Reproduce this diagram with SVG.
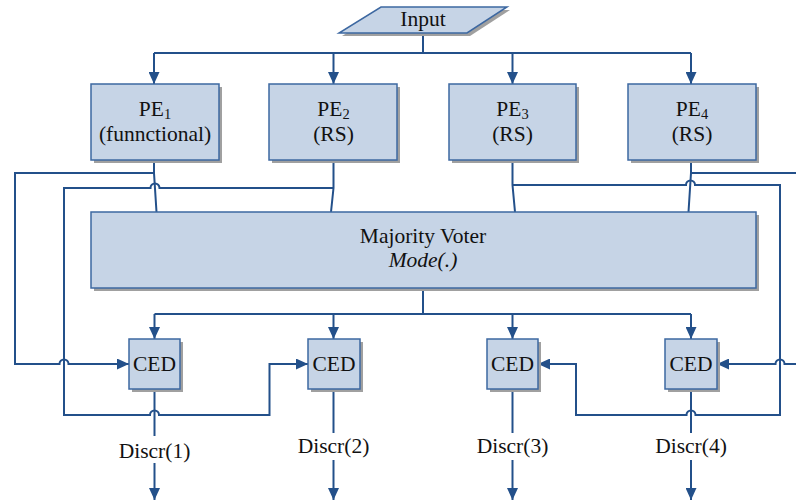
<svg xmlns="http://www.w3.org/2000/svg" width="796" height="502" viewBox="0 0 796 502">
  <defs>
    <marker id="arrow" markerUnits="userSpaceOnUse" markerWidth="12" markerHeight="11" refX="12" refY="5.5" orient="auto">
      <path d="M0,0 L12,5.5 L0,11 z" fill="#23508a"/>
    </marker>
  </defs>
  <style>
    .box { fill: #c6d4e6; stroke: #3d68a1; stroke-width: 1.5; }
    .shadow { fill: #a0a0a0; }
    .wire { fill: none; stroke: #23508a; stroke-width: 2; }
    .arr { marker-end: url(#arrow); }
    text { font-family: "Liberation Serif", "Times New Roman", serif; font-size: 21.5px; fill: #111; text-anchor: middle; }
    .sub { font-size: 14.5px; }
  </style>
  <rect width="796" height="502" fill="#ffffff"/>

  <!-- connectors -->
  <g id="connectors">
    <!-- input fan-out -->
    <path class="wire" d="M423,33 V53"/>
    <path class="wire" d="M154,53 H691"/>
    <path class="wire arr" d="M154,53 V84"/>
    <path class="wire arr" d="M333.5,53 V84"/>
    <path class="wire arr" d="M512.5,53 V84"/>
    <path class="wire arr" d="M691,53 V84"/>

    <!-- PE outputs into voter -->
    <path class="wire" d="M154,160 V173 L156.5,212"/>
    <path class="wire" d="M333.5,160 V188 L331,212"/>
    <path class="wire" d="M512.5,160 V185 L515,212"/>
    <path class="wire" d="M691,160 V173 L688.5,212"/>

    <!-- PE outputs routed to the checkers -->
    <path class="wire arr" d="M154,173 H15 V364 H59.5 A4.5,4.5 0 0 1 68.5,364 H129"/>
    <path class="wire arr" d="M333.5,188 H159.5 A4.5,4.5 0 0 0 150.5,188 H64 V415 H150 A4.5,4.5 0 0 1 159,415 H269.5 V364 H308"/>
    <path class="wire arr" d="M512.5,185 H686 A4.5,4.5 0 0 1 695,185 H780 V415 H695.5 A4.5,4.5 0 0 0 686.5,415 H576 V364 H538"/>
    <path class="wire" d="M691,173 H796"/>
    <path class="wire arr" d="M796,364 H784.5 A4.5,4.5 0 0 0 775.5,364 H717"/>

    <!-- voter output fan-out -->
    <path class="wire" d="M423,288 V314"/>
    <path class="wire" d="M154.5,314 H691"/>
    <path class="wire arr" d="M154.5,314 V339"/>
    <path class="wire arr" d="M333.5,314 V339"/>
    <path class="wire arr" d="M512.5,314 V339"/>
    <path class="wire arr" d="M691,314 V339"/>

    <!-- checker outputs -->
    <path class="wire" d="M154.5,389 V436"/>
    <path class="wire arr" d="M154.5,463 V500"/>
    <path class="wire" d="M333.5,389 V433"/>
    <path class="wire arr" d="M333.5,460 V500"/>
    <path class="wire" d="M512.5,389 V433"/>
    <path class="wire arr" d="M512.5,460 V500"/>
    <path class="wire" d="M691,389 V433"/>
    <path class="wire arr" d="M691,460 V500"/>

    <text x="154.5" y="458">Discr(1)</text>
    <text x="333.5" y="453">Discr(2)</text>
    <text x="512.5" y="453">Discr(3)</text>
    <text x="691" y="453">Discr(4)</text>
  </g>

  <!-- input -->
  <g id="input">
    <polygon class="shadow" points="384,10 510,10 470,36 342,36"/>
    <polygon class="box" points="381,7 507,7 467,33 339,33"/>
    <text x="423" y="26">Input</text>
  </g>

  <!-- processing elements -->
  <g id="pe1">
    <rect class="shadow" x="94" y="87" width="128" height="76"/>
    <rect class="box" x="91" y="84" width="128" height="76"/>
    <text x="155" y="116">PE<tspan class="sub" dy="3">1</tspan></text>
    <text x="155" y="141">(funnctional)</text>
  </g>
  <g id="pe2">
    <rect class="shadow" x="272" y="87" width="128" height="76"/>
    <rect class="box" x="269" y="84" width="128" height="76"/>
    <text x="333.5" y="116">PE<tspan class="sub" dy="3">2</tspan></text>
    <text x="333.5" y="141">(RS)</text>
  </g>
  <g id="pe3">
    <rect class="shadow" x="452" y="87" width="127" height="76"/>
    <rect class="box" x="449" y="84" width="127" height="76"/>
    <text x="512.5" y="116">PE<tspan class="sub" dy="3">3</tspan></text>
    <text x="512.5" y="141">(RS)</text>
  </g>
  <g id="pe4">
    <rect class="shadow" x="631" y="87" width="128" height="76"/>
    <rect class="box" x="628" y="84" width="128" height="76"/>
    <text x="692" y="116">PE<tspan class="sub" dy="3">4</tspan></text>
    <text x="692" y="141">(RS)</text>
  </g>

  <!-- voter -->
  <g id="voter">
    <rect class="shadow" x="94" y="215" width="665" height="76"/>
    <rect class="box" x="91" y="212" width="665" height="76"/>
    <text x="423" y="243">Majority Voter</text>
    <text x="423" y="267" font-style="italic">Mode(.)</text>
  </g>

  <!-- error detectors -->
  <g id="ced1">
    <rect class="shadow" x="132" y="342" width="51" height="50"/>
    <rect class="box" x="129" y="339" width="51" height="50"/>
    <text x="154.5" y="371">CED</text>
  </g>
  <g id="ced2">
    <rect class="shadow" x="311" y="342" width="52" height="50"/>
    <rect class="box" x="308" y="339" width="52" height="50"/>
    <text x="334" y="371">CED</text>
  </g>
  <g id="ced3">
    <rect class="shadow" x="490" y="342" width="51" height="50"/>
    <rect class="box" x="487" y="339" width="51" height="50"/>
    <text x="512.5" y="371">CED</text>
  </g>
  <g id="ced4">
    <rect class="shadow" x="668" y="342" width="52" height="50"/>
    <rect class="box" x="665" y="339" width="52" height="50"/>
    <text x="691" y="371">CED</text>
  </g>
</svg>
